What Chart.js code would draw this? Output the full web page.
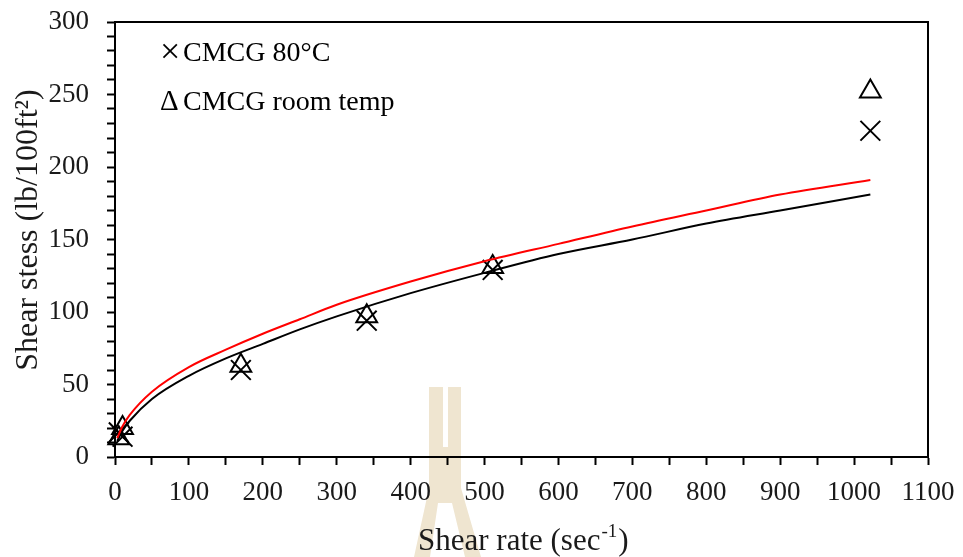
<!DOCTYPE html>
<html>
<head>
<meta charset="utf-8">
<script src="https://cdn.jsdelivr.net/npm/chart.js@4"></script>
<style>
  html, body { margin: 0; padding: 0; background: #fff; }
  #wrap { width: 963px; height: 557px; position: relative; }
</style>
</head>
<body>
<div id="wrap"><canvas id="chart1"></canvas></div>
<script>
// measured points (viscometer readings)
const shearRate = [5.1, 10.2, 170.3, 340.6, 511, 1022];
const stress80C = [17, 14, 60, 94, 129, 225];
const stressRoom = [13, 20, 63, 97, 131, 252];

// model curves
const fitRate = [3, 10, 20, 50, 100, 150, 200, 250, 300, 400, 500, 600, 700, 800, 900, 1022];
const fitRoom = [13, 21, 29, 45, 62, 74, 85, 95, 105, 121, 135, 147, 159, 170, 181, 191];
const fit80C = [11, 18, 25, 40, 56, 68, 78, 88, 97, 113, 127, 140, 150, 161, 170, 181];

const legendLabels = ['CMCG 80\u00B0C', 'CMCG room temp'];
const yTitle = 'Shear stess (lb/100ft\u00B2)';

const serif = "'Liberation Serif', 'Times New Roman', serif";

function pairs(xs, ys) {
    return xs.map((x, i) => ({ x: x, y: ys[i] }));
}

// faint logo behind the plot + frame, legend and axis titles on top
const extras = {
    id: 'extras',
    beforeDraw(chart) {
        const ctx = chart.ctx;
        ctx.save();
        ctx.fillStyle = '#efe5d0';
        ctx.beginPath();
        ctx.moveTo(429, 387); ctx.lineTo(461, 387); ctx.lineTo(461, 488);
        ctx.lineTo(481, 557); ctx.lineTo(465, 557); ctx.lineTo(452, 503);
        ctx.lineTo(438, 503); ctx.lineTo(430, 557); ctx.lineTo(414, 557);
        ctx.lineTo(429, 488); ctx.closePath();
        ctx.fill();
        ctx.fillStyle = '#fff';
        ctx.fillRect(443, 387, 5, 60);
        ctx.restore();
    },
    afterDraw(chart) {
        const ctx = chart.ctx;
        const a = chart.chartArea;
        ctx.save();
        ctx.strokeStyle = '#000';
        ctx.lineWidth = 2;
        ctx.beginPath();
        ctx.moveTo(a.left, a.top);
        ctx.lineTo(a.right, a.top);
        ctx.lineTo(a.right, a.bottom);
        ctx.stroke();

        // legend
        ctx.fillStyle = '#000';
        ctx.textBaseline = 'alphabetic';
        ctx.font = '36px ' + serif;
        ctx.fillText('\u00D7', 160, 63);
        ctx.font = '29px ' + serif;
        ctx.fillText('\u0394', 160, 110);
        ctx.font = '28px ' + serif;
        ctx.fillText(legendLabels[0], 183, 61);
        ctx.fillText(legendLabels[1], 183, 110);

        // y axis title
        ctx.fillStyle = '#1a1a1a';
        ctx.save();
        ctx.translate(37, 230);
        ctx.rotate(-Math.PI / 2);
        ctx.textAlign = 'center';
        ctx.font = '32px ' + serif;
        ctx.fillText(yTitle, 0, 0);
        ctx.restore();

        // x axis title with superscript
        let x = 418;
        const base = 550;
        ctx.font = '31px ' + serif;
        const t1 = 'Shear rate (sec';
        ctx.fillText(t1, x, base);
        x += ctx.measureText(t1).width + 1;
        ctx.font = '19px ' + serif;
        ctx.fillText('-1', x, base - 13);
        x += ctx.measureText('-1').width + 1;
        ctx.font = '31px ' + serif;
        ctx.fillText(')', x, base);
        ctx.restore();
    }
};

const ctx = document.getElementById('chart1').getContext('2d');
const chart = new Chart(ctx, {
    data: {
        datasets: [
            {
                type: 'line',
                label: 'room temp model',
                data: pairs(fitRate, fitRoom),
                borderColor: '#ff0000',
                borderWidth: 2,
                pointRadius: 0,
                cubicInterpolationMode: 'monotone',
                clip: false
            },
            {
                type: 'line',
                label: '80C model',
                data: pairs(fitRate, fit80C),
                borderColor: '#000',
                borderWidth: 2,
                pointRadius: 0,
                cubicInterpolationMode: 'monotone',
                clip: false
            },
            {
                type: 'scatter',
                label: legendLabels[0],
                data: pairs(shearRate, stress80C),
                pointStyle: 'crossRot',
                pointRadius: 14,
                borderColor: '#000',
                borderWidth: 2,
                backgroundColor: 'transparent',
                clip: false
            },
            {
                type: 'scatter',
                label: legendLabels[1],
                data: pairs(shearRate, stressRoom),
                pointStyle: 'triangle',
                pointRadius: 12,
                borderColor: '#000',
                borderWidth: 2,
                backgroundColor: 'transparent',
                clip: false
            }
        ]
    },
    options: {
        responsive: true,
        maintainAspectRatio: false,
        animation: false,
        layout: { padding: { top: 22, right: 35, left: 0, bottom: 0 } },
        plugins: {
            legend: { display: false },
            tooltip: { enabled: false }
        },
        scales: {
            x: {
                type: 'linear',
                min: 0,
                max: 1100,
                border: { color: '#000', width: 2 },
                grid: { drawOnChartArea: false, drawTicks: true, tickLength: 8, color: '#000', tickWidth: 2 },
                ticks: {
                    stepSize: 50,
                    autoSkip: false,
                    maxRotation: 0,
                    padding: 12,
                    color: '#1a1a1a',
                    font: { family: serif, size: 27 },
                    callback: v => (v % 100 === 0 ? v : '')
                },
                afterFit(scale) {
                    scale.height = 100;
                    scale.paddingLeft = 0;
                    scale.paddingRight = 0;
                }
            },
            y: {
                min: 0,
                max: 300,
                border: { color: '#000', width: 2 },
                grid: { drawOnChartArea: false, drawTicks: true, tickLength: 8, color: '#000', tickWidth: 2 },
                ticks: {
                    stepSize: 10,
                    autoSkip: false,
                    padding: 18,
                    color: '#1a1a1a',
                    font: { family: serif, size: 27 },
                    callback: v => (v % 50 === 0 ? v : '')
                },
                afterFit(scale) {
                    scale.width = 115;
                    scale.paddingTop = 0;
                    scale.paddingBottom = 0;
                }
            }
        }
    },
    plugins: [extras]
});
</script>
</body>
</html>
